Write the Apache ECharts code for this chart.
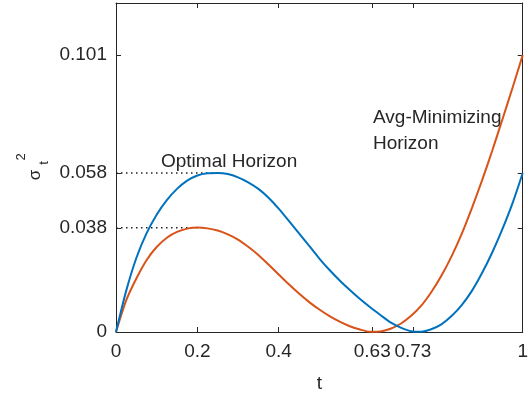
<!DOCTYPE html>
<html>
<head>
<meta charset="utf-8">
<script src="https://cdn.jsdelivr.net/npm/echarts@6/dist/echarts.min.js"></script>
<style>
html,body{margin:0;padding:0;background:#fff;}
#chart{width:531px;height:401px;}
</style>
</head>
<body>
<div id="chart"></div>
<script>
// ---- data ----
const tVals = [0,0.025,0.05,0.075,0.1,0.125,0.15,0.175,0.2,0.225,0.25,0.275,0.3,0.325,0.35,0.375,0.4,0.425,0.45,0.475,0.5,0.525,0.55,0.575,0.6,0.625,0.65,0.675,0.7,0.725,0.75,0.775,0.8,0.825,0.85,0.875,0.9,0.925,0.95,0.975,1.0];
const optimalVals = [0,0.0150,0.0270,0.0360,0.0428,0.0481,0.0522,0.0552,0.0571,0.0579,0.0580,0.0576,0.0564,0.0546,0.0522,0.0490,0.0450,0.0405,0.0360,0.0314,0.0268,0.0226,0.0188,0.0153,0.0120,0.0090,0.0062,0.0035,0.0016,0.0003,0.0001,0.0010,0.0028,0.0058,0.0098,0.0150,0.0215,0.0290,0.0375,0.0470,0.0580];
const avgMinVals = [0,0.0115,0.0195,0.0262,0.0310,0.0344,0.0365,0.0377,0.0381,0.0378,0.0370,0.0356,0.0337,0.0311,0.0281,0.0246,0.0210,0.0174,0.0140,0.0109,0.0082,0.0058,0.0038,0.0021,0.0009,0.0001,0.0002,0.0012,0.0030,0.0058,0.0095,0.0145,0.0205,0.0276,0.0358,0.0452,0.0553,0.0661,0.0775,0.0891,0.1010];
const xTicks = [0,0.2,0.4,0.63,0.73,1];
const yTicks = [0,0.038,0.058,0.101];
const refOptT = [0,0.25], refOptV = 0.058;
const refAvgT = [0,0.21], refAvgV = 0.038;

const pairs = (xs, ys) => xs.map((x,i)=>[x, ys[i]]);
const FONT = 'Liberation Sans, Arial, Helvetica, sans-serif';
const AX = '#262626';

const chart = echarts.init(document.getElementById('chart'), null, {renderer:'canvas'});
const axisCommon = {
  type:'value',
  axisLine:{show:true, onZero:false, lineStyle:{color:AX, width:1}},
  axisTick:{show:true, inside:true, length:5, lineStyle:{color:AX, width:1}},
  splitLine:{show:false}
};
chart.setOption({
  animation:false,
  backgroundColor:'#fff',
  grid:{left:116, right:8, top:3, bottom:69, show:false},
  xAxis:[
    Object.assign({}, axisCommon, {
      position:'bottom', min:0, max:1,
      axisTick:Object.assign({}, axisCommon.axisTick, {customValues:xTicks}),
      axisLabel:{customValues:xTicks, color:AX, fontSize:19, fontFamily:FONT, margin:10,
        formatter:v=>String(+v.toFixed(2))},
      name:'t', nameLocation:'middle', nameGap:42,
      nameTextStyle:{color:AX, fontSize:19, fontFamily:FONT}
    }),
    Object.assign({}, axisCommon, {
      position:'top', min:0, max:1,
      axisTick:Object.assign({}, axisCommon.axisTick, {customValues:xTicks}),
      axisLabel:{show:false}
    })
  ],
  yAxis:[
    Object.assign({}, axisCommon, {
      position:'left', min:0, max:0.12,
      axisTick:Object.assign({}, axisCommon.axisTick, {customValues:yTicks}),
      axisLabel:{customValues:yTicks, color:AX, fontSize:19, fontFamily:FONT, margin:9,
        formatter:v=>String(+v.toFixed(3))}
    }),
    Object.assign({}, axisCommon, {
      position:'right', min:0, max:0.12,
      axisTick:Object.assign({}, axisCommon.axisTick, {customValues:yTicks}),
      axisLabel:{show:false}
    })
  ],
  series:[
    {type:'line', data:pairs(refOptT,[refOptV,refOptV]), symbol:'none', z:1,
      lineStyle:{color:'#222', width:1.5, type:[1.5,3.5]}},
    {type:'line', data:pairs(refAvgT,[refAvgV,refAvgV]), symbol:'none', z:1,
      lineStyle:{color:'#222', width:1.5, type:[1.5,3.5]}},
    {type:'line', name:'Optimal', data:pairs(tVals, optimalVals), symbol:'none', smooth:0.25, z:3,
      lineStyle:{color:'#0072BD', width:2}},
    {type:'line', name:'Avg', data:pairs(tVals, avgMinVals), symbol:'none', smooth:0.25, z:2,
      lineStyle:{color:'#D95319', width:2}}
  ],
  graphic:[
    {type:'text', x:161, y:162, style:{text:'Optimal Horizon', fill:AX, fontSize:19, fontFamily:FONT, verticalAlign:'middle', align:'left'}},
    {type:'text', x:373, y:118, style:{text:'Avg-Minimizing', fill:AX, fontSize:19, fontFamily:FONT, verticalAlign:'middle', align:'left'}},
    {type:'text', x:373, y:144, style:{text:'Horizon', fill:AX, fontSize:19, fontFamily:FONT, verticalAlign:'middle', align:'left'}},
    {type:'text', x:35, y:175, rotation:Math.PI/2, style:{text:'σ', fill:AX, fontSize:17, fontFamily:FONT, verticalAlign:'middle', align:'center'}},
    {type:'text', x:44, y:163, rotation:Math.PI/2, style:{text:'t', fill:AX, fontSize:13, fontFamily:FONT, verticalAlign:'middle', align:'center'}},
    {type:'text', x:21, y:157, rotation:Math.PI/2, style:{text:'2', fill:AX, fontSize:13, fontFamily:FONT, verticalAlign:'middle', align:'center'}}
  ]
});
</script>
</body>
</html>
